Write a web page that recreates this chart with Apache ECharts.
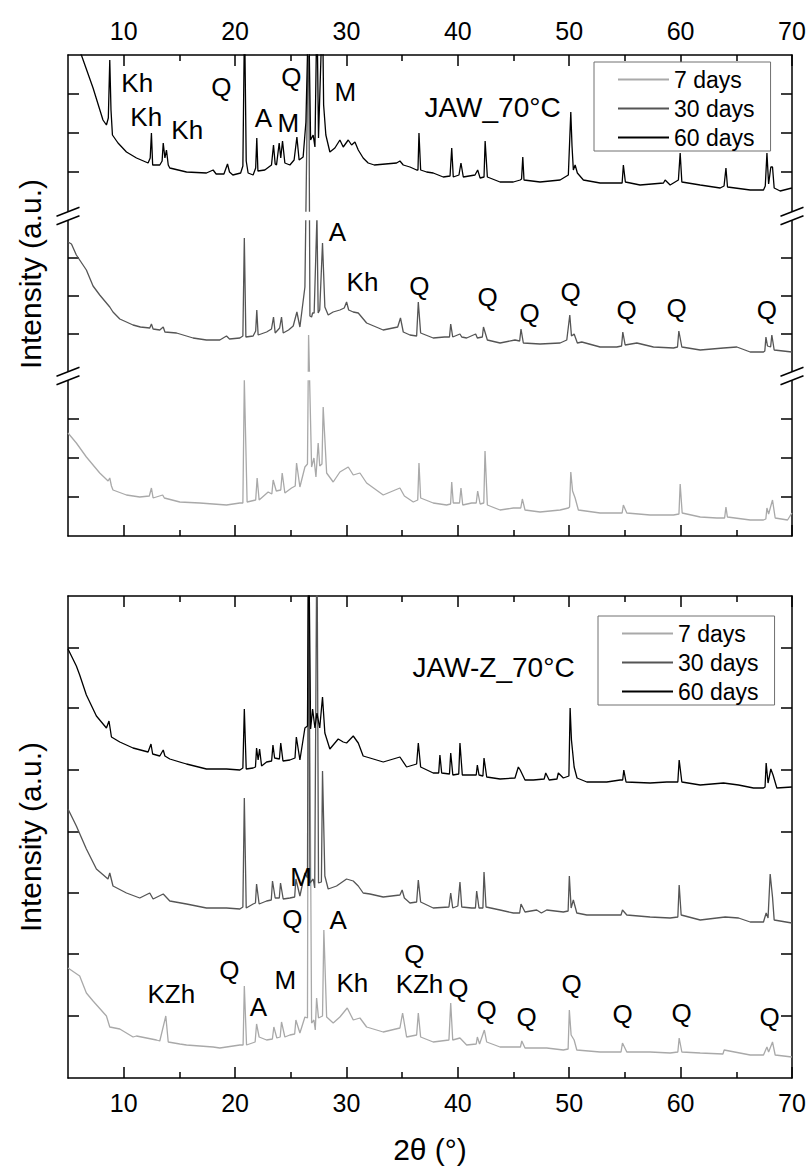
<!DOCTYPE html>
<html><head><meta charset="utf-8">
<script src="https://cdn.jsdelivr.net/npm/echarts@6/dist/echarts.min.js"></script>
<style>html,body{margin:0;padding:0;background:#fff}#c{width:809px;height:1168px}</style>
</head><body><div id="c"></div>
<script>
const FONT = 'Liberation Sans, Arial, sans-serif';
const X_MIN = 5, X_MAX = 70;
const xMajorTicks = [10, 20, 30, 40, 50, 60, 70];
const xMinorTicks = [15, 25, 35, 45, 55, 65];
const topYTicks = [39, 78, 117, 202, 240, 278, 364, 403, 442];
const bottomYTicks = [62, 124, 185, 246, 308, 370, 430];
const topBreaks = [160, 320];
const seriesNames = ['7 days', '30 days', '60 days'];
const seriesColors = ['#a9a9a9', '#555555', '#000000'];

// JAW_70°C (top panel), values in a.u. with vertical offsets as plotted
const top7 = [[5.0,103],[5.75,93],[6.65,79],[7.85,63],[8.6,55],[8.75,58],[8.9,50],[9.04,46],[10.25,41],[11.44,39],[12.3,40],[12.49,48],[12.64,38],[13.5,41],[13.65,38],[15.04,34],[16.83,33],[19.23,31],[20.43,33],[20.7,33],[20.83,156],[21.08,34],[21.85,36],[21.98,58],[22.16,36],[22.97,44],[23.3,42],[23.42,56],[23.7,45],[24.1,46],[24.23,63],[24.47,43],[25.07,48],[25.4,50],[25.52,73],[25.82,49],[26.27,69],[26.5,72],[26.6,201],[26.87,69],[27.08,78],[27.26,59],[27.46,93],[27.6,70],[27.8,72],[27.91,129],[28.22,63],[28.81,54],[29.41,64],[30.16,69],[30.61,61],[31.21,63],[31.81,53],[33.3,41],[34.8,48],[35.2,40],[36.0,34],[36.4,36],[36.51,73],[36.66,38],[37.79,33],[38.99,31],[39.35,32],[39.45,54],[39.59,33],[40.15,33],[40.28,48],[40.44,31],[41.24,33],[41.65,33],[41.78,45],[42.0,32],[42.33,33],[42.44,85],[42.65,31],[43.79,26],[44.98,28],[45.65,28],[45.79,37],[46.03,26],[47.38,24],[49.18,26],[49.92,28],[50.03,29],[50.14,64],[50.3,45],[50.53,38],[50.82,26],[52.77,23],[54.57,23],[54.75,23],[54.86,31],[55.17,23],[57.26,21],[59.36,21],[59.85,22],[59.96,52],[60.14,23],[61.76,19],[63.26,18],[63.95,18],[64.07,29],[64.2,19],[66.25,16],[67.44,16],[67.65,17],[67.75,28],[67.9,22],[68.25,36],[68.49,18],[69.6,16],[69.99,23]];
const top30 = [[5.0,294],[5.31,292],[5.75,281],[6.65,266],[7.25,250],[7.85,241],[8.75,229],[9.04,224],[9.65,217],[10.84,211],[11.5,209],[12.34,208],[12.49,212],[12.64,207],[13.24,206],[13.55,209],[13.7,204],[14.74,203],[16.23,198],[17.43,196],[18.63,196],[19.23,200],[19.5,197],[20.43,198],[20.7,200],[20.83,298],[20.97,199],[21.62,200],[21.85,205],[21.95,226],[22.07,201],[22.83,204],[23.27,207],[23.45,219],[23.6,203],[24.0,208],[24.17,219],[24.32,203],[24.8,206],[25.22,210],[25.55,224],[25.82,209],[26.27,249],[26.6,530],[26.72,220],[26.87,219],[26.96,223],[27.1,223],[27.35,320],[27.46,223],[27.6,226],[27.85,293],[28.06,229],[28.36,221],[28.8,224],[29.41,226],[29.8,228],[30.01,234],[30.2,226],[30.61,224],[31.06,223],[31.81,213],[33.3,206],[34.6,209],[34.85,218],[35.1,204],[35.7,201],[36.3,200],[36.45,234],[36.66,203],[37.79,198],[38.8,199],[39.25,199],[39.36,212],[39.54,199],[40.19,202],[40.35,199],[40.79,198],[41.6,202],[41.75,198],[42.2,199],[42.3,209],[42.65,196],[43.79,193],[45.13,196],[45.55,195],[45.67,207],[45.88,193],[47.38,192],[49.18,193],[49.78,196],[50.05,221],[50.2,200],[50.44,202],[50.73,193],[51.13,194],[52.77,189],[54.27,189],[54.7,190],[54.81,204],[55.02,191],[56.07,193],[57.56,189],[59.36,188],[59.72,189],[59.84,205],[60.11,189],[61.76,186],[63.85,188],[65.05,189],[66.25,184],[67.44,184],[67.56,185],[67.66,199],[67.8,190],[68.08,189],[68.19,201],[68.4,186],[69.99,184]];
const top60 = [[5.0,520],[6.2,481],[7.25,448],[8.14,416],[8.45,411],[8.62,418],[8.75,476],[8.86,426],[8.99,401],[9.49,393],[10.25,384],[11.15,378],[12.19,373],[12.38,378],[12.49,403],[12.6,371],[13.24,371],[13.45,375],[13.55,393],[13.7,378],[13.84,386],[14.0,371],[14.14,368],[15.64,364],[17.43,363],[18.03,366],[18.3,362],[19.0,362],[19.32,372],[19.5,364],[19.8,361],[20.5,363],[20.7,370],[20.85,520],[21.0,375],[21.17,363],[21.62,361],[21.85,368],[21.95,398],[22.05,365],[22.67,366],[23.27,371],[23.45,391],[23.6,372],[23.72,371],[23.96,393],[24.1,378],[24.26,395],[24.47,373],[24.92,371],[25.3,376],[25.55,399],[25.75,376],[26.11,379],[26.36,414],[26.6,530],[26.78,396],[27.01,401],[27.17,389],[27.35,530],[27.49,398],[27.85,530],[27.95,431],[28.15,401],[28.51,384],[28.96,388],[29.41,396],[29.71,389],[30.16,396],[30.46,391],[30.76,394],[31.06,386],[31.5,378],[31.95,373],[32.5,371],[33.5,372],[34.5,373],[34.8,375],[35.1,371],[35.7,369],[36.3,366],[36.42,366],[36.51,403],[36.66,366],[37.2,364],[37.79,363],[38.69,359],[39.3,360],[39.45,388],[39.59,359],[40.1,361],[40.28,373],[40.49,359],[41.54,361],[41.78,366],[42.0,358],[42.35,359],[42.45,395],[42.65,359],[43.79,354],[44.98,354],[45.6,356],[45.72,357],[45.83,379],[45.94,356],[47.38,354],[49.18,356],[49.92,361],[50.14,424],[50.25,390],[50.37,366],[50.53,371],[50.73,363],[51.27,356],[52.77,353],[54.57,353],[54.75,353],[54.86,371],[55.04,354],[56.36,351],[58.46,353],[58.61,356],[59.06,351],[59.8,356],[59.96,383],[60.11,354],[61.76,351],[63.55,348],[63.9,350],[64.07,368],[64.21,349],[66.25,346],[67.44,346],[67.6,350],[67.75,383],[67.9,352],[68.1,369],[68.25,369],[68.4,348],[68.94,345],[69.99,348]];

// JAW-Z_70°C (bottom panel)
const bot7 = [[5.0,110],[6.05,102],[6.65,85],[7.25,77],[8.45,62],[8.75,51],[9.65,49],[10.84,41],[11.15,42],[12.94,38],[13.24,37],[13.78,62],[14.0,36],[15.04,34],[15.64,33],[16.83,32],[18.03,31],[18.63,30],[20.43,33],[20.72,33],[20.83,92],[21.03,33],[21.8,36],[21.93,54],[22.16,41],[22.83,38],[23.35,39],[23.48,51],[23.75,40],[24.05,41],[24.17,56],[24.47,41],[24.92,43],[25.35,44],[25.46,58],[25.82,45],[26.27,61],[26.5,60],[26.6,560],[26.87,55],[27.08,58],[27.2,48],[27.32,80],[27.49,60],[27.85,62],[27.97,148],[28.22,61],[28.81,55],[29.41,61],[30.07,70],[30.61,58],[31.21,60],[31.81,51],[33.3,46],[34.8,50],[35.04,65],[35.4,41],[36.3,43],[36.45,65],[36.66,41],[37.79,36],[39.2,38],[39.36,75],[39.54,38],[40.19,40],[40.79,33],[41.65,34],[41.75,41],[41.95,34],[42.38,48],[42.59,36],[43.79,31],[45.62,31],[45.74,37],[46.03,30],[47.98,30],[49.47,28],[49.9,29],[50.01,68],[50.17,43],[50.44,38],[50.68,28],[52.77,26],[54.65,26],[54.78,35],[55.17,26],[57.26,26],[59.06,25],[59.75,26],[59.87,40],[60.11,26],[61.76,25],[63.8,24],[63.91,28],[66.25,23],[67.44,23],[67.75,31],[67.9,26],[68.25,36],[68.49,23],[69.99,21]];
const bot30 = [[5.0,269],[5.75,252],[6.65,229],[7.55,209],[8.59,199],[8.75,205],[9.04,192],[10.25,185],[11.44,180],[12.34,185],[12.64,179],[13.55,184],[14.14,177],[15.64,174],[17.43,170],[19.23,170],[20.43,169],[20.7,171],[20.83,280],[21.0,170],[21.62,174],[21.83,175],[21.93,194],[22.16,174],[22.83,177],[23.25,178],[23.36,197],[23.6,180],[23.97,180],[24.08,195],[24.32,179],[24.92,180],[25.35,181],[25.46,199],[25.82,182],[26.27,205],[26.5,200],[26.6,560],[26.72,195],[27.01,199],[27.15,190],[27.35,560],[27.49,195],[27.75,196],[27.85,307],[28.06,202],[28.36,189],[29.11,192],[30.01,199],[30.61,197],[31.06,192],[31.5,185],[32.11,184],[33.3,181],[34.8,183],[35.0,188],[35.2,180],[35.7,175],[36.3,176],[36.45,198],[36.66,176],[37.79,170],[39.2,171],[39.36,185],[39.54,170],[40.0,172],[40.19,196],[40.35,171],[41.24,170],[41.58,170],[41.69,187],[41.9,170],[42.25,170],[42.35,206],[42.53,171],[43.79,168],[44.98,165],[45.55,165],[45.67,174],[46.03,166],[47.08,168],[47.5,165],[47.98,168],[49.47,166],[49.9,167],[50.01,202],[50.17,170],[50.37,178],[50.68,165],[51.58,163],[53.37,163],[54.65,163],[54.78,168],[55.17,163],[57.26,161],[59.06,160],[59.75,161],[59.87,193],[60.05,163],[61.76,158],[64.0,161],[65.2,160],[66.25,156],[67.44,156],[67.68,165],[67.85,160],[68.04,204],[68.25,181],[68.4,158],[69.99,155]];
const bot60 = [[5.0,429],[5.75,412],[6.05,403],[6.65,383],[7.55,362],[8.45,350],[8.68,357],[8.9,341],[9.65,336],[10.84,330],[12.19,326],[12.45,334],[12.6,324],[13.24,322],[13.55,328],[13.7,322],[14.14,319],[15.64,314],[17.43,309],[19.23,309],[20.43,308],[20.7,310],[20.83,369],[21.0,309],[21.62,310],[21.83,311],[21.93,330],[22.07,318],[22.2,329],[22.38,312],[22.83,316],[23.28,317],[23.4,333],[23.55,320],[23.98,319],[24.1,335],[24.3,317],[24.92,318],[25.38,320],[25.5,341],[25.82,318],[26.27,350],[26.5,352],[26.6,560],[26.78,349],[26.96,369],[27.17,350],[27.35,365],[27.6,350],[27.85,381],[28.06,345],[28.51,329],[29.26,339],[29.71,336],[30.01,335],[30.61,342],[31.06,335],[31.5,322],[32.11,320],[33.3,316],[34.8,321],[35.4,311],[36.3,314],[36.45,335],[36.66,311],[37.79,305],[38.28,305],[38.39,323],[38.55,305],[39.25,304],[39.36,325],[39.55,303],[40.08,304],[40.19,335],[40.4,303],[41.39,303],[41.65,303],[41.75,313],[41.9,303],[42.25,302],[42.35,320],[42.59,301],[43.79,299],[45.13,300],[45.43,311],[45.6,308],[46.03,298],[46.78,298],[47.75,299],[47.89,305],[48.2,298],[48.9,299],[49.02,305],[49.47,300],[49.97,302],[50.08,370],[50.2,338],[50.44,311],[50.7,300],[51.58,296],[53.37,296],[54.57,298],[54.8,298],[54.9,308],[55.1,296],[57.26,295],[58.76,296],[59.75,296],[59.87,318],[60.11,296],[61.76,293],[63.85,295],[65.2,293],[66.54,290],[67.44,290],[67.58,291],[67.68,315],[67.85,295],[68.1,309],[68.3,303],[68.64,290],[69.99,291]];

// phase annotations: [2θ, a.u., text]
const topLabels = [[11.26,453,'Kh'],[12.07,419,'Kh'],[15.75,406,'Kh'],[18.81,449,'Q'],[25.1,459,'Q'],[22.58,418,'A'],[24.83,413,'M'],[29.95,444,'M'],[29.23,304,'A'],[31.48,254,'Kh'],[36.6,250,'Q'],[42.71,239,'Q'],[46.48,223,'Q'],[50.17,244,'Q'],[55.2,226,'Q'],[59.69,228,'Q'],[67.78,226,'Q']];
const botLabels = [[25.98,201,'M'],[25.18,159,'Q'],[29.31,158,'A'],[19.53,108,'Q'],[24.56,98,'M'],[30.58,95,'Kh'],[14.32,84,'KZh'],[22.13,71,'A'],[36.15,124,'Q'],[36.6,94,'KZh'],[40.1,90,'Q'],[42.62,68,'Q'],[46.21,61,'Q'],[50.25,94,'Q'],[54.83,64,'Q'],[60.13,65,'Q'],[68.04,61,'Q']];
const topTitle = [43.16, 428, 'JAW_70°C'];
const botTitle = [43.25, 410, 'JAW-Z_70°C'];

const chart = echarts.init(document.getElementById('c'), null, {renderer: 'svg'});

function xAxes(gridIndex, labelPos) {
  const base = {gridIndex, type: 'value', min: X_MIN, max: X_MAX, splitLine: {show: false}};
  const out = [];
  ['top', 'bottom'].forEach(pos => {
    out.push(Object.assign({}, base, {
      position: pos,
      axisLine: {show: true, onZero: false, lineStyle: {color: '#000', width: 1.5}},
      axisTick: {show: true, inside: true, length: 11, customValues: xMajorTicks, lineStyle: {color: '#000', width: 1.5}},
      axisLabel: {show: pos === labelPos, customValues: xMajorTicks, color: '#000', fontSize: 25, fontFamily: FONT, margin: 12},
      name: (pos === 'bottom' && labelPos === 'bottom') ? '2θ (°)' : '',
      nameLocation: 'middle', nameGap: 56,
      nameTextStyle: {color: '#000', fontSize: 30, fontFamily: FONT}
    }));
    out.push(Object.assign({}, base, {
      position: pos,
      axisLine: {show: false, onZero: false},
      axisTick: {show: true, inside: true, length: 6, customValues: xMinorTicks, lineStyle: {color: '#000', width: 1.5}},
      axisLabel: {show: false}
    }));
  });
  return out;
}
function yAxes(gridIndex, maxV, ticks) {
  return ['left', 'right'].map(pos => ({
    gridIndex, type: 'value', position: pos, min: 0, max: maxV,
    splitLine: {show: false},
    axisLine: {show: true, onZero: false, lineStyle: {color: '#000', width: 1.5}},
    axisTick: {show: true, inside: true, length: 11, customValues: ticks, lineStyle: {color: '#000', width: 1.5}},
    axisLabel: {show: false}
  }));
}
function lines(datasets, xi, yi) {
  return datasets.map((d, i) => ({
    type: 'line', name: seriesNames[i], data: d, xAxisIndex: xi, yAxisIndex: yi,
    symbol: 'none', showSymbol: false, animation: false, silent: true, clip: true,
    lineStyle: {width: 1.3, color: seriesColors[i]}, itemStyle: {color: seriesColors[i]}
  }));
}
function labelSeries(labels, title, xi, yi) {
  const data = labels.map(l => ({value: [l[0], l[1]], name: l[2]}));
  data.push({value: [title[0], title[1]], name: title[2], label: {fontSize: 28}});
  return {
    type: 'scatter', name: 'phases', xAxisIndex: xi, yAxisIndex: yi, data,
    symbolSize: 1, itemStyle: {color: 'rgba(255,255,255,0)'}, silent: true, animation: false, z: 5,
    label: {show: true, position: [0, 0], align: 'center', verticalAlign: 'middle',
      formatter: p => p.name, color: '#000', opacity: 1, textBorderWidth: 0,
      fontSize: 26, fontFamily: FONT}
  };
}
function legend(left, top) {
  return {
    data: seriesNames, orient: 'vertical', left, top, selectedMode: false,
    itemWidth: 51, itemHeight: 14, itemGap: 4,
    padding: [5, 16, 1, 23],
    itemStyle: {opacity: 0},
    borderColor: '#707070', borderWidth: 1, backgroundColor: '#fff',
    textStyle: {color: '#000', fontSize: 23, fontFamily: FONT, lineHeight: 25}
  };
}

const option = {
  animation: false,
  backgroundColor: '#fff',
  grid: [
    {left: 68, right: 17, top: 55, height: 481, outerBoundsMode: 'none', containLabel: false},
    {left: 68, right: 17, top: 596, height: 482, outerBoundsMode: 'none', containLabel: false}
  ],
  xAxis: xAxes(0, 'top').concat(xAxes(1, 'bottom')),
  yAxis: yAxes(0, 481, topYTicks).concat(yAxes(1, 482, bottomYTicks)),
  legend: [legend(594, 62), legend(598, 616)],
  series: lines([top7, top30, top60], 0, 0)
    .concat(lines([bot7, bot30, bot60], 4, 2))
    .concat([labelSeries(topLabels, topTitle, 0, 0), labelSeries(botLabels, botTitle, 4, 2)])
};
chart.setOption(option);

// axis-break marks and y titles
const xl = chart.convertToPixel({xAxisIndex: 0}, X_MIN);
const xr = chart.convertToPixel({xAxisIndex: 0}, X_MAX);
const g = [];
topBreaks.forEach(v => {
  const y = chart.convertToPixel({yAxisIndex: 0}, v);
  g.push({type: 'rect', z: 100, shape: {x: xl - 1, y: y - 4.2, width: xr - xl + 2, height: 8.4}, style: {fill: '#fff'}});
  [xl, xr].forEach(ax => {
    g.push({type: 'polygon', z: 100, shape: {points: [[ax - 11.5, y + 0.3], [ax + 11.5, y - 8.7], [ax + 11.5, y - 0.3], [ax - 11.5, y + 8.7]]}, style: {fill: '#fff'}});
    [-4.2, 4.2].forEach(d => g.push({type: 'line', z: 101,
      shape: {x1: ax - 11.5, y1: y + d + 4.5, x2: ax + 11.5, y2: y + d - 4.5},
      style: {stroke: '#000', lineWidth: 1.5}}));
  });
});
const yTop = chart.convertToPixel({yAxisIndex: 0}, 262);
const yBot = chart.convertToPixel({yAxisIndex: 2}, 241);
[yTop, yBot].forEach(y => g.push({type: 'text', z: 100, x: 30, y, rotation: Math.PI / 2,
  style: {text: 'Intensity (a.u.)', fill: '#000', fontSize: 30, fontFamily: FONT, align: 'center', verticalAlign: 'middle'}}));
chart.setOption({graphic: g});
</script></body></html>
